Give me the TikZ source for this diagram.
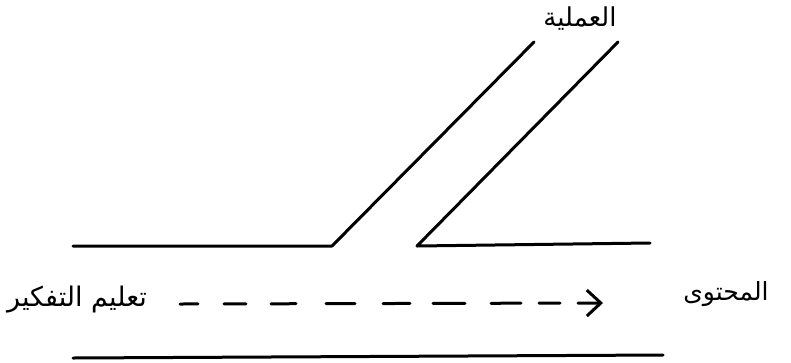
\documentclass[tikz,border=0pt]{standalone}
\usepackage{fontspec}
\newfontfamily\arabicfont[Script=Arabic]{DejaVu Sans}
\TeXXeTstate=1
\usetikzlibrary{arrows.meta}
\begin{document}
\begin{tikzpicture}[x=1pt,y=-1pt,
  wall/.style={line width=3pt,line cap=round,line join=round},
  lbl/.style={font=\arabicfont,inner sep=0pt},
  dasharrow/.style={line width=3pt,line cap=round,
    dash pattern=on 18pt off 26pt on 22pt off 25pt on 25pt off 30pt on 29pt off 28pt on 27pt off 23pt on 32pt off 26pt on 30pt off 18pt on 21pt off 18pt on 60pt,
    -{Straight Barb[length=14pt,width=26pt,line width=3pt]}}]
\useasboundingbox (0,0) rectangle (791,362);
\coordinate (a1) at (73,246);
\coordinate (a2) at (332,246);
\coordinate (a3) at (534,42);
\coordinate (b1) at (618,42);
\coordinate (b2) at (417,246);
\coordinate (b3) at (650,243);
\coordinate (c1) at (73,358);
\coordinate (c2) at (663,355);
\coordinate (d1) at (180,304);
\coordinate (d2) at (603,303);
\draw[wall] (a1) -- (a2) -- (a3);
\draw[wall] (b1) -- (b2) -- (b3);
\draw[wall] (c1) -- (c2);
\draw[dasharrow] (d1) -- (d2);
\node[lbl,font=\arabicfont\fontsize{26}{30}\selectfont] (top) at (580,19) {\beginR العملية\endR};
\node[lbl,font=\arabicfont\fontsize{27}{31}\selectfont] (left) at (77,300) {\beginR تعليم التفكير\endR};
\node[lbl,font=\arabicfont\fontsize{25}{29}\selectfont] (right) at (726,294) {\beginR المحتوى\endR};
\end{tikzpicture}
\end{document}
